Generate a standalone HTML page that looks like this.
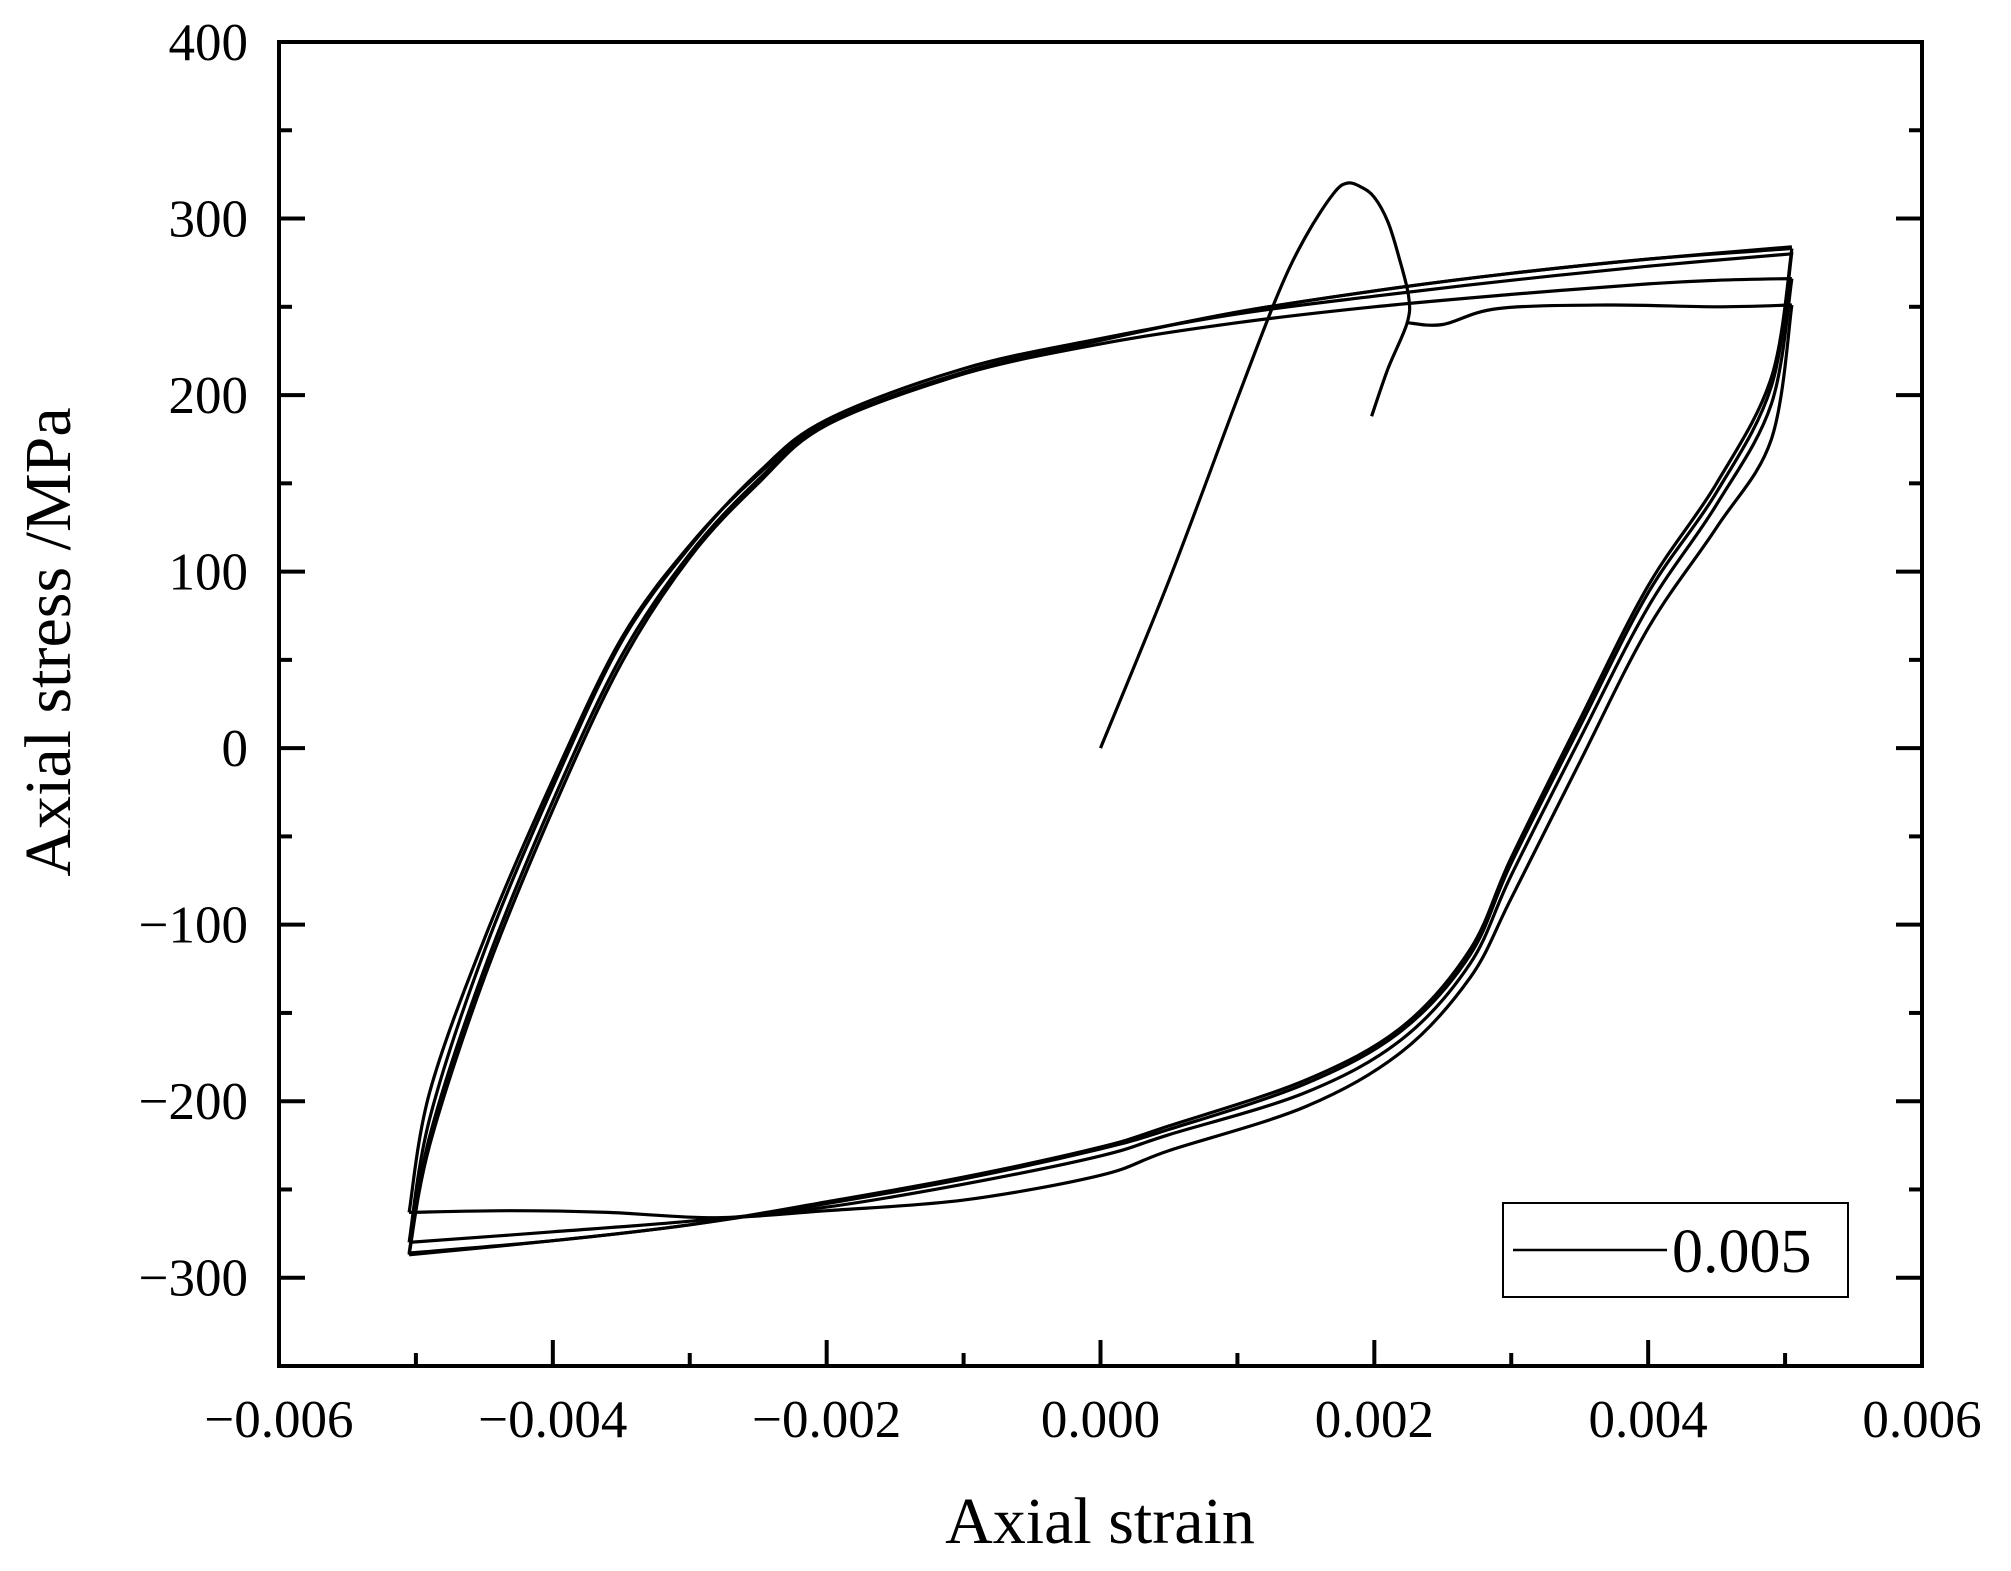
<!DOCTYPE html>
<html><head><meta charset="utf-8"><style>
html,body{margin:0;padding:0;background:#fff}
svg{display:block}
text{font-family:"Liberation Serif",serif;fill:#000}
</style></head><body>
<svg id="chart" width="2011" height="1571" viewBox="0 0 2011 1571">
<g id="ticks"></g>
<g id="series" fill="none" stroke="#000" stroke-width="3.2" stroke-linejoin="round"></g>
<rect x="279" y="42" width="1643" height="1324" fill="none" stroke="#000" stroke-width="4"/>
<text x="1100" y="1543" font-size="66" text-anchor="middle">Axial strain</text>
<text transform="translate(70,642) rotate(-90)" font-size="66" text-anchor="middle">Axial stress /MPa</text>
<g>
<rect x="1503" y="1203" width="345" height="94" fill="#fff" stroke="#000" stroke-width="2"/>
<line x1="1513" y1="1250" x2="1667" y2="1250" stroke="#000" stroke-width="2.4"/>
<text x="1672" y="1272" font-size="62">0.005</text>
</g>
</svg>
<script>
const xTicks=[-0.006,-0.004,-0.002,0,0.002,0.004,0.006];
const xTickLabels=["\u22120.006","\u22120.004","\u22120.002","0.000","0.002","0.004","0.006"];
const yTicks=[400,300,200,100,0,-100,-200,-300];
const yTickLabels=["400","300","200","100","0","\u2212100","\u2212200","\u2212300"];
const initialLoad=[[0,0],[0.0005,95],[0.001,198],[0.0013,258],[0.0015,290],[0.0017,314],[0.0018,320],[0.0019,318],[0.002,312],[0.0021,298],[0.00218,278],[0.00225,256],[0.00224,241],[0.0021,215],[0.00198,188]];
const firstTension=[[0.00224,241],[0.0025,240],[0.0029,249],[0.0037,251],[0.0045,250],[0.00505,251]];
const down1=[[0.00505,251],[0.0049,175],[0.0045,125],[0.004,68],[0.0035,-8],[0.003,-85],[0.0027,-130],[0.0022,-172],[0.0015,-203],[0.0005,-228],[0,-242],[-0.001,-256],[-0.002,-262],[-0.0028,-266],[-0.0036,-263],[-0.0043,-262],[-0.00505,-263]];
const up1=[[-0.00505,-263],[-0.0049,-195],[-0.0045,-108],[-0.004,-18],[-0.0035,62],[-0.003,115],[-0.0025,155],[-0.002,184],[-0.001,212],[0,229],[0.001,241],[0.002,250],[0.003,257],[0.004,263],[0.0045,265],[0.00505,266]];
const down2=[[0.00505,266],[0.0049,195],[0.0045,138],[0.004,80],[0.0035,5],[0.003,-72],[0.0027,-122],[0.0022,-165],[0.0015,-195],[0.0005,-219],[0,-231],[-0.001,-247],[-0.002,-260],[-0.003,-268],[-0.004,-274],[-0.00505,-280]];
const up2=[[-0.00505,-280],[-0.0049,-210],[-0.0045,-115],[-0.004,-22],[-0.0035,60],[-0.003,114],[-0.0025,156],[-0.002,186],[-0.001,215],[0,232],[0.001,246],[0.002,256],[0.003,265],[0.004,273],[0.00505,280]];
const down3=[[0.00505,281],[0.0049,205],[0.0045,145],[0.004,88],[0.0035,12],[0.003,-65],[0.0027,-117],[0.0022,-160],[0.0015,-190],[0.0005,-216],[0,-227],[-0.001,-244],[-0.002,-258],[-0.003,-270],[-0.004,-279],[-0.00505,-286]];
const up3=[[-0.00505,-286],[-0.0049,-220],[-0.0045,-125],[-0.004,-30],[-0.0035,52],[-0.003,110],[-0.0025,152],[-0.002,184],[-0.001,213],[0,231],[0.001,247],[0.002,259],[0.003,269],[0.004,277],[0.00505,283]];
const down4=[[0.00505,283],[0.0049,210],[0.0045,150],[0.004,92],[0.0035,16],[0.003,-62],[0.0027,-114],[0.0022,-158],[0.0015,-188],[0.0005,-214],[0,-226],[-0.001,-243],[-0.002,-257],[-0.003,-270],[-0.004,-279],[-0.00505,-287]];
const up4=[[-0.00505,-287],[-0.0049,-225],[-0.0045,-130],[-0.004,-35],[-0.0035,48],[-0.003,108],[-0.0025,150],[-0.002,183],[-0.001,212],[0,231],[0.001,247],[0.002,259],[0.003,269],[0.004,277],[0.00505,284]];
const seriesList=[initialLoad,firstTension,down1,up1,down2,up2,down3,up3,down4,up4];
const seriesNames=['initial-loading','first-tension','unload-cycle-1','reload-cycle-1','unload-cycle-2','reload-cycle-2','unload-cycle-3','reload-cycle-3','unload-cycle-4','reload-cycle-4'];

const X0=279,X1=1922,Y0=42,Y1=1366;
function xs(v){return X0+(v+0.006)/0.012*(X1-X0);}
function ys(v){return Y1-(v+350)/750*(Y1-Y0);}
const NS='http://www.w3.org/2000/svg';
const tg=document.getElementById('ticks');
function mk(tag,attrs,parent){const e=document.createElementNS(NS,tag);for(const k in attrs)e.setAttribute(k,attrs[k]);parent.appendChild(e);return e;}
xTicks.forEach((v,i)=>{
  const x=xs(v);
  const t=mk('line',{x1:x,y1:Y1,x2:x,y2:Y1-26,stroke:'#000','stroke-width':4},tg);
  
  
  if(i<xTicks.length-1){const xm=xs(v+0.001);
    const m=mk('line',{x1:xm,y1:Y1,x2:xm,y2:Y1-13,stroke:'#000','stroke-width':4},tg);
    
    }
  const l=mk('text',{x:x,y:1437,'font-size':53,'text-anchor':'middle'},tg);
  l.textContent=xTickLabels[i];
  
  
});
yTicks.forEach((v,i)=>{
  const y=ys(v);
  [[X0,X0+26],[X1,X1-26]].forEach(p=>{
    const t=mk('line',{x1:p[0],y1:y,x2:p[1],y2:y,stroke:'#000','stroke-width':4},tg);
    
    
  });
  const ym=ys(v-50);
  if(v-50>=-350){[[X0,X0+13],[X1,X1-13]].forEach(p=>{
    const m=mk('line',{x1:p[0],y1:ym,x2:p[1],y2:ym,stroke:'#000','stroke-width':4},tg);
    
    
  });}
  const l=mk('text',{x:248,y:y+18,'font-size':53,'text-anchor':'end'},tg);
  l.textContent=yTickLabels[i];
  
  
});
function smoothPath(arr){
  const P=arr.map(p=>[xs(p[0]),ys(p[1])]);
  let d='M'+P[0][0].toFixed(1)+','+P[0][1].toFixed(1);
  for(let i=0;i<P.length-1;i++){
    const p0=P[Math.max(0,i-1)],p1=P[i],p2=P[i+1],p3=P[Math.min(P.length-1,i+2)];
    const c1=[p1[0]+(p2[0]-p0[0])/6,p1[1]+(p2[1]-p0[1])/6];
    const c2=[p2[0]-(p3[0]-p1[0])/6,p2[1]-(p3[1]-p1[1])/6];
    d+=' C'+c1[0].toFixed(1)+','+c1[1].toFixed(1)+' '+c2[0].toFixed(1)+','+c2[1].toFixed(1)+' '+p2[0].toFixed(1)+','+p2[1].toFixed(1);
  }
  return d;
}
const sg=document.getElementById('series');
seriesList.forEach((arr,i)=>{
  const path=mk('path',{d:smoothPath(arr)},sg);
  
  
});
</script>
</body></html>
